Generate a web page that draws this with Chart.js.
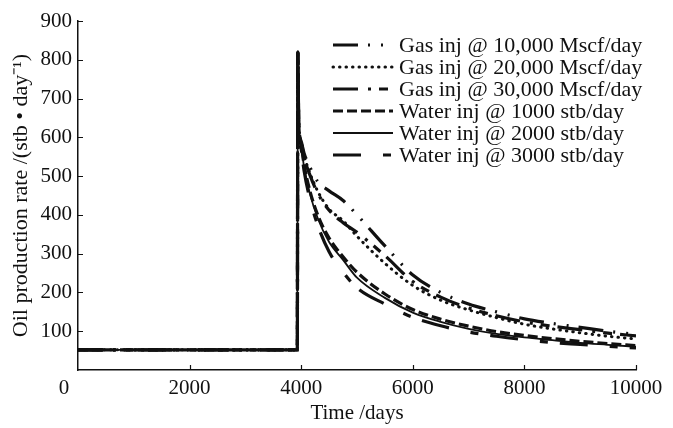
<!DOCTYPE html>
<html>
<head>
<meta charset="utf-8">
<script src="https://cdn.jsdelivr.net/npm/chart.js@4.4.1/dist/chart.umd.min.js"></script>
<style>
  html, body { margin: 0; padding: 0; background: #fff; }
  canvas { display: block; }
</style>
</head>
<body>
<canvas id="rateChart" width="673" height="428"></canvas>
<script>
// time axis (days) shared by all runs
const days = [0, 3930, 3940, 3955, 4000, 4050, 4150, 4300, 4500, 4750, 5000, 5500, 6000, 6500, 7000, 7500, 8000, 8500, 9000, 9500, 10000];

// oil rate, stb/day
const gas10k   = [52, 52, 820, 640, 590, 560, 525, 485, 462, 437, 400, 320, 245, 200, 170, 150, 132, 120, 110, 100, 92];
const gas20k   = [52, 52, 820, 640, 590, 555, 510, 460, 415, 385, 345, 275, 218, 180, 155, 135, 118, 106, 96, 87, 80];
const gas30k   = [52, 52, 820, 640, 588, 550, 505, 455, 412, 380, 355, 295, 228, 188, 160, 140, 124, 113, 104, 95, 88];
const water1k  = [52, 52, 820, 640, 580, 530, 465, 398, 340, 292, 252, 196, 156, 131, 113, 99, 89, 81, 74, 68, 63];
const water2k  = [52, 52, 820, 640, 575, 525, 458, 390, 330, 284, 238, 186, 148, 124, 106, 93, 84, 77, 70, 65, 60];
const water3k  = [52, 52, 820, 640, 570, 515, 445, 372, 305, 252, 212, 170, 136, 114, 98, 87, 78, 71, 66, 61, 57];

const seriesNames = [
    'Gas inj @ 10,000 Mscf/day',
    'Gas inj @ 20,000 Mscf/day',
    'Gas inj @ 30,000 Mscf/day',
    'Water inj @ 1000 stb/day',
    'Water inj @ 2000 stb/day',
    'Water inj @ 3000 stb/day'
];

const xTickValues = [2000, 4000, 6000, 8000, 10000];
const yTickValues = [100, 200, 300, 400, 500, 600, 700, 800, 900];

const FONT = '"Liberation Serif", "Times New Roman", serif';
const ink = '#111';

function toPoints(vals) {
    return days.map((d, i) => ({ x: d, y: vals[i] }));
}

const styles = [
    { dash: [25, 10, 2, 11, 2, 10], width: 3.2, cap: 'butt' },
    { dash: [0.5, 6], width: 3, cap: 'round' },
    { dash: [25, 10, 3, 8, 9, 8], width: 3.2, cap: 'butt' },
    { dash: [10, 4], width: 3.2, cap: 'butt' },
    { dash: [], width: 1.8, cap: 'butt' },
    { dash: [28, 22, 8, 12], width: 3.2, cap: 'butt' }
];

const allSeries = [gas10k, gas20k, gas30k, water1k, water2k, water3k];

const datasets = allSeries.map((vals, i) => ({
    label: seriesNames[i],
    data: toPoints(vals),
    borderColor: ink,
    borderWidth: styles[i].width,
    borderDash: styles[i].dash,
    borderCapStyle: styles[i].cap,
    pointRadius: 0,
    fill: false,
    cubicInterpolationMode: 'monotone'
}));

// legend drawn inside the plot, top right
const lineLegend = {
    id: 'lineLegend',
    afterDraw(chart) {
        const ctx = chart.ctx;
        ctx.save();
        chart.data.datasets.forEach((ds, i) => {
            const y = 45 + i * 22;
            ctx.strokeStyle = ink;
            ctx.lineWidth = ds.borderWidth;
            ctx.lineCap = ds.borderCapStyle;
            ctx.setLineDash(ds.borderDash);
            ctx.beginPath();
            ctx.moveTo(333, y);
            ctx.lineTo(393, y);
            ctx.stroke();
            ctx.setLineDash([]);
            ctx.fillStyle = ink;
            ctx.font = '22px ' + FONT;
            ctx.textAlign = 'left';
            ctx.textBaseline = 'middle';
            ctx.fillText(ds.label, 399, y + 1);
        });
        ctx.restore();
    }
};

// inward tick marks + the shared origin label
const innerTicks = {
    id: 'innerTicks',
    afterDatasetsDraw(chart) {
        const ctx = chart.ctx;
        const xs = chart.scales.x, ys = chart.scales.y;
        const left = chart.chartArea.left, bottom = chart.chartArea.bottom;
        ctx.save();
        ctx.strokeStyle = ink;
        ctx.lineWidth = 1.2;
        ctx.beginPath();
        yTickValues.forEach(v => {
            const py = Math.round(ys.getPixelForValue(v)) + 0.5;
            ctx.moveTo(left, py);
            ctx.lineTo(left + 5, py);
        });
        xTickValues.forEach(v => {
            const px = Math.round(xs.getPixelForValue(v)) + 0.5;
            ctx.moveTo(px, bottom);
            ctx.lineTo(px, bottom - 5);
        });
        ctx.stroke();
        ctx.fillStyle = ink;
        ctx.font = '21px ' + FONT;
        ctx.textAlign = 'center';
        ctx.textBaseline = 'middle';
        ctx.fillText('0', 64, 388);
        ctx.restore();
    }
};

new Chart(document.getElementById('rateChart').getContext('2d'), {
    type: 'line',
    data: { datasets: datasets },
    plugins: [lineLegend, innerTicks],
    options: {
        responsive: false,
        animation: false,
        devicePixelRatio: 1,
        layout: { padding: { top: 21, right: 37, left: 0, bottom: 0 } },
        plugins: {
            legend: { display: false },
            tooltip: { enabled: false }
        },
        scales: {
            x: {
                type: 'linear',
                min: 0,
                max: 10000,
                afterBuildTicks: axis => { axis.ticks = xTickValues.map(v => ({ value: v })); },
                afterFit: axis => { axis.height = 58; },
                grid: { drawOnChartArea: false, drawTicks: false },
                border: { display: true, color: ink, width: 1.5 },
                ticks: { color: ink, font: { family: FONT, size: 21 }, padding: 6, maxRotation: 0, callback: v => String(v) },
                title: { display: true, text: 'Time /days', color: ink, font: { family: FONT, size: 21 }, padding: { top: 0, bottom: 2 } }
            },
            y: {
                min: 0,
                max: 900,
                afterBuildTicks: axis => { axis.ticks = yTickValues.map(v => ({ value: v })); },
                afterFit: axis => { axis.width = 78; },
                grid: { drawOnChartArea: false, drawTicks: false },
                border: { display: true, color: ink, width: 1.5 },
                ticks: { color: ink, font: { family: FONT, size: 21 }, padding: 6 },
                title: { display: true, text: 'Oil production rate /(stb • day⁻¹)', color: ink, font: { family: FONT, size: 22 }, padding: { top: 8, bottom: 0 } }
            }
        }
    }
});
</script>
</body>
</html>
